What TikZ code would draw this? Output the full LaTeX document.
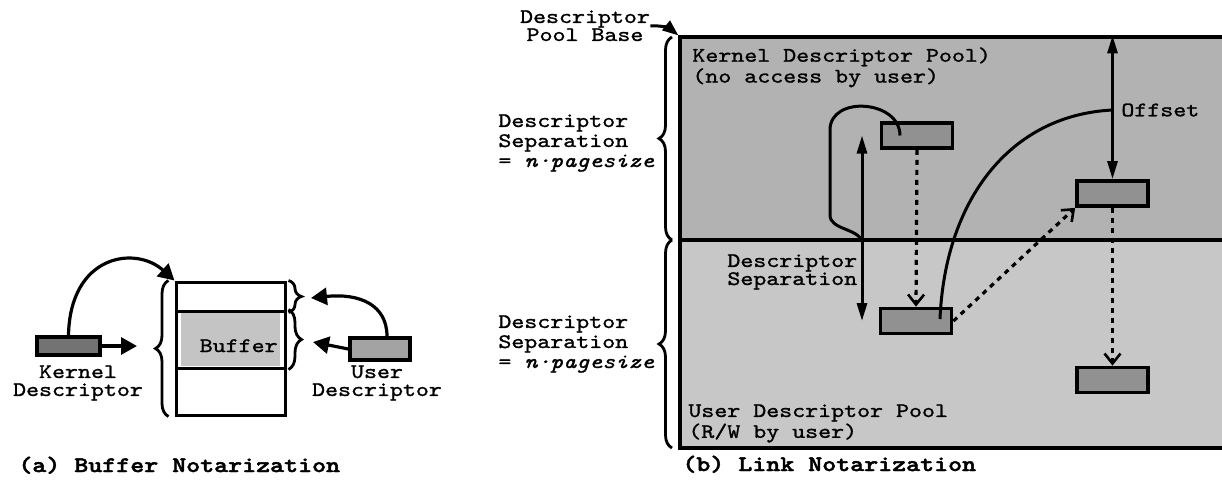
\documentclass[tikz,border=0pt]{standalone}
\usepackage{fontspec}
\newfontfamily\cour{lmmono10}[Extension=.otf, UprightFont=*-regular, ItalicFont=*-italic, FakeStretch=1.2, FakeBold=1.2]
\newfontfamily\courbf{lmmonolt10-bold}[Extension=.otf, FakeStretch=1.2, FakeBold=2]
\usetikzlibrary{arrows.meta,decorations.pathreplacing}
\definecolor{kpoolc}{gray}{0.70}
\definecolor{upoolc}{gray}{0.78}
\definecolor{descc}{gray}{0.57}
\definecolor{bufc}{gray}{0.77}
\definecolor{udc}{gray}{0.64}
\tikzset{
  lbl/.style={font=\cour\fontsize{10.3pt}{9pt}\selectfont, inner sep=0pt},
  sidelbl/.style={font=\cour\fontsize{10.3pt}{10pt}\selectfont, inner sep=0pt, align=left, anchor=north west},
  caption/.style={font=\courbf\fontsize{11.1pt}{11pt}\selectfont, inner sep=0pt, anchor=base west},
  colcell/.style={draw, line width=1.5pt, minimum width=54.5pt, inner sep=0pt},
  descbox/.style={draw, line width=1.9pt, minimum width=35.5pt, minimum height=12.5pt, inner sep=0pt, fill=descc},
  pool/.style={draw, line width=1.6pt, minimum width=272pt, inner sep=0pt},
  arra/.style={line width=1.6pt, -{Triangle[length=8pt,width=8.5pt]}},
  arrb/.style={line width=1.5pt, -{Triangle[length=8pt,width=6pt]}},
  dbl/.style={line width=1.5pt, {Triangle[length=9pt,width=5pt]}-{Triangle[length=9pt,width=5pt]}},
  link/.style={line width=1.6pt, dash pattern=on 2.5pt off 2.5pt, -{Straight Barb[length=5pt,width=8pt,line width=1.3pt]}},
  curly/.style={decorate, decoration={brace, amplitude=6.5pt}, line width=1.4pt}
}
\begin{document}
\begin{tikzpicture}[x=0.5pt,y=-0.5pt]
  \useasboundingbox (0,0) rectangle (1222,484);

  \node[colcell, minimum height=14.5pt] (top) at (230.5,296.5) {};
  \node[colcell, minimum height=28.5pt] (mid) at (230.5,339.5) {};
  \node[colcell, minimum height=23.5pt] (bot) at (230.5,391.5) {};
  \node[fill=bufc, minimum width=49.5pt, minimum height=26.5pt, inner sep=0pt] (buf) at (mid) {};
  \node[lbl, anchor=base east] (buftxt) at (278,352) {Buffer};
  \node[draw, line width=1.7pt, fill=black!55, minimum width=31.5pt, minimum height=9pt, inner sep=0pt] (kd) at (68.5,346) {};
  \node[draw, line width=1.6pt, fill=udc, minimum width=30pt, minimum height=11pt, inner sep=0pt] (ud) at (380,349) {};
  \node[lbl, align=center, anchor=north] (kdl) at (78,365) {Kernel\\Descriptor};
  \node[lbl, align=center, anchor=north] (udl) at (377,365) {User\\Descriptor};
  \node[caption] (capa) at (18,472) {(a) Buffer Notarization};
  \coordinate (ktip) at (137,346);
  \coordinate (utop) at (311,298);
  \coordinate (umid) at (313,342);

  \draw[curly] ([xshift=-3pt]bot.south west) -- ([xshift=-3pt]top.north west);
  \draw[curly] ([xshift=1pt]top.north east) -- ([xshift=1pt]top.south east);
  \draw[curly] ([xshift=1pt]mid.north east) -- ([xshift=1pt]mid.south east);
  \draw[arra] (kd.north) .. controls (70,255) and (135,245) .. (top.north west);
  \draw[arra] (kd.east) -- (ktip);
  \draw[arra] ([xshift=3.5pt]ud.north) .. controls (387,305) and (360,293) .. (utop);
  \draw[arra] (ud.west) -- (umid);

  \node[pool, fill=kpoolc, minimum height=101.5pt] (kpool) at (952,138.5) {};
  \node[pool, fill=upoolc, minimum height=104pt] (upool) at (952,344) {};
  \node[descbox] (k1) at (917,135.5) {};
  \node[descbox] (u1) at (916,321) {};
  \node[descbox] (k2) at (1112.5,193.5) {};
  \node[descbox] (u2) at (1112.5,380) {};
  \node[lbl, align=center, anchor=north] (base) at (585,10) {Descriptor\\Pool Base};
  \node[sidelbl] (sepk) at (498,114) {Descriptor\\Separation\\= {\itshape n·pagesize}};
  \node[sidelbl] (sepu) at (498,315) {Descriptor\\Separation\\= {\itshape n·pagesize}};
  \node[lbl, align=left, anchor=north west] (kpl) at (692,47) {Kernel Descriptor Pool)\\(no access by user)};
  \node[lbl, align=left, anchor=north west] (upl) at (688,404) {User Descriptor Pool\\(R/W by user)};
  \node[lbl, align=left, anchor=north west] (sepl) at (727,254) {Descriptor\\Separation};
  \node[lbl, anchor=west] (offl) at (1121,110) {Offset};
  \node[caption] (capb) at (682,471) {(b) Link Notarization};
  \coordinate (sepx) at (862,0);
  \coordinate (offj) at (k2.north |- offl.west);

  \draw[curly] (672,240) -- (672,37);
  \draw[curly] (672,448) -- (672,240);
  \draw[arrb] (base.east) to[bend left=20] (kpool.north west);
  \draw[dbl] (k1.center -| sepx) -- (u1.center -| sepx);
  \draw[line width=1.5pt] ([xshift=-8.5pt]k1.center) .. controls (900,100) and (830,95) .. (830,130)
    -- (830,215) .. controls (830,230) and (858,228) .. (sepx |- kpool.south);
  \draw[dbl] (kpool.north -| k2.north) -- (k2.north);
  \draw[line width=1.5pt] ([xshift=12pt,yshift=1pt]u1.center) .. controls (945,200) and (1010,115) .. (offj);
  \draw[link] (k1.south) -- (u1.north);
  \draw[link] (k2.south) -- (u2.north);
  \draw[link] (u1.east) -- (k2.south west);
\end{tikzpicture}
\end{document}
